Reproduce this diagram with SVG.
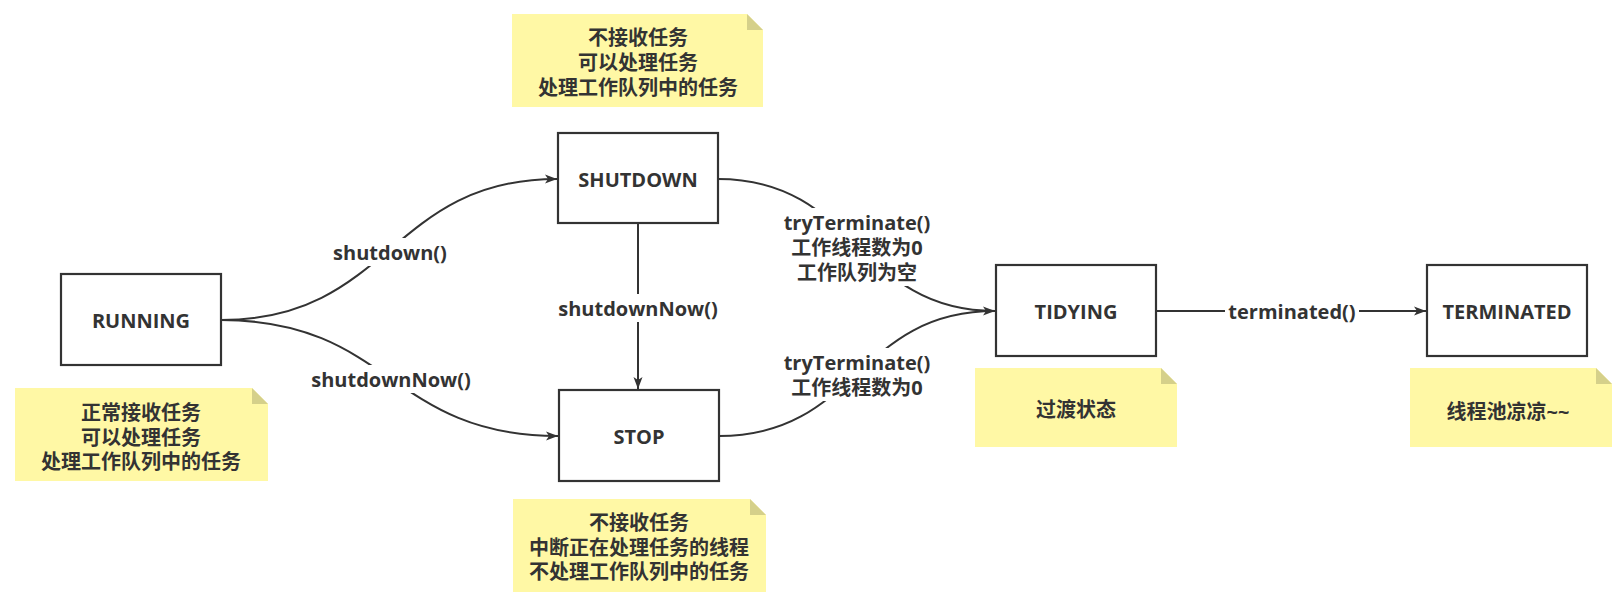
<svg xmlns="http://www.w3.org/2000/svg" width="1617" height="601" viewBox="0 0 1617 601">
<style>
.box{fill:#fff;stroke:#333;stroke-width:2.2}
.note{fill:#fff8a5}
.fold{fill:#d5d08a}
.t{font-family:"Open Sans","Noto Sans CJK SC",sans-serif;font-weight:bold;font-size:20px;fill:#333;text-anchor:middle;dominant-baseline:central}
.c{fill:none;stroke:#333;stroke-width:2}
.lb{fill:#fff}
</style>
<defs>
<marker id="arr" viewBox="0 0 12 10" refX="12" refY="5" markerWidth="12" markerHeight="10" markerUnits="userSpaceOnUse" orient="auto">
<path d="M0,0.5 L12,5 L0,9.5 L3,5 Z" fill="#333"/>
</marker>
</defs>
<rect width="1617" height="601" fill="#fff"/>
<g id="connectors">
<path class="c" d="M221,320 C390,320 390,179 557,179" marker-end="url(#arr)"/>
<path class="c" d="M221,320 C390,320 390,436 558,436" marker-end="url(#arr)"/>
<path class="c" d="M638,223 L638,389" marker-end="url(#arr)"/>
<path class="c" d="M718,179 C857,179 857,311 995,311" marker-end="url(#arr)"/>
<path class="c" d="M719,436 C857,436 857,311 995,311"/>
<path class="c" d="M1156,311 L1426,311" marker-end="url(#arr)"/>
<rect class="lb" x="328" y="238" width="124" height="28"/>
<text class="t" x="390" y="252">shutdown()</text>
<rect class="lb" x="308" y="365" width="166" height="28"/>
<text class="t" x="391" y="379">shutdownNow()</text>
<rect class="lb" x="556" y="294" width="164" height="28"/>
<text class="t" x="638" y="308">shutdownNow()</text>
<rect class="lb" x="780" y="208" width="154" height="78"/>
<text class="t" x="857" y="222">tryTerminate()</text>
<text class="t" x="857" y="247">工作线程数为0</text>
<text class="t" x="857" y="272">工作队列为空</text>
<rect class="lb" x="780" y="348" width="154" height="53"/>
<text class="t" x="857" y="362">tryTerminate()</text>
<text class="t" x="857" y="387">工作线程数为0</text>
<rect class="lb" x="1225" y="297" width="134" height="28"/>
<text class="t" x="1292" y="311">terminated()</text>
</g>
<g id="running">
<rect class="box" x="61" y="274" width="160" height="91"/>
<text class="t" x="141" y="320">RUNNING</text>
</g>
<g id="note-running">
<path class="note" d="M15,388 H252 L268,404 V481 H15 Z"/>
<path class="fold" d="M252,388 L268,404 H252 Z"/>
<text class="t" x="141" y="412">正常接收任务</text>
<text class="t" x="141" y="437">可以处理任务</text>
<text class="t" x="141" y="461">处理工作队列中的任务</text>
</g>
<g id="shutdown">
<rect class="box" x="558" y="133" width="160" height="90"/>
<text class="t" x="638" y="179">SHUTDOWN</text>
</g>
<g id="note-shutdown">
<path class="note" d="M512,14 H747 L763,30 V107 H512 Z"/>
<path class="fold" d="M747,14 L763,30 H747 Z"/>
<text class="t" x="638" y="37">不接收任务</text>
<text class="t" x="638" y="62">可以处理任务</text>
<text class="t" x="638" y="87">处理工作队列中的任务</text>
</g>
<g id="stop">
<rect class="box" x="559" y="390" width="160" height="91"/>
<text class="t" x="639" y="436">STOP</text>
</g>
<g id="note-stop">
<path class="note" d="M513,499 H750 L766,515 V592 H513 Z"/>
<path class="fold" d="M750,499 L766,515 H750 Z"/>
<text class="t" x="639" y="522">不接收任务</text>
<text class="t" x="639" y="547">中断正在处理任务的线程</text>
<text class="t" x="639" y="571">不处理工作队列中的任务</text>
</g>
<g id="tidying">
<rect class="box" x="996" y="265" width="160" height="91"/>
<text class="t" x="1076" y="311">TIDYING</text>
</g>
<g id="note-tidying">
<path class="note" d="M975,368 H1161 L1177,384 V447 H975 Z"/>
<path class="fold" d="M1161,368 L1177,384 H1161 Z"/>
<text class="t" x="1076" y="409">过渡状态</text>
</g>
<g id="terminated">
<rect class="box" x="1427" y="265" width="160" height="91"/>
<text class="t" x="1507" y="311">TERMINATED</text>
</g>
<g id="note-terminated">
<path class="note" d="M1410,368 H1596 L1612,384 V447 H1410 Z"/>
<path class="fold" d="M1596,368 L1612,384 H1596 Z"/>
<text class="t" x="1508" y="411">线程池凉凉~~</text>
</g>
</svg>
